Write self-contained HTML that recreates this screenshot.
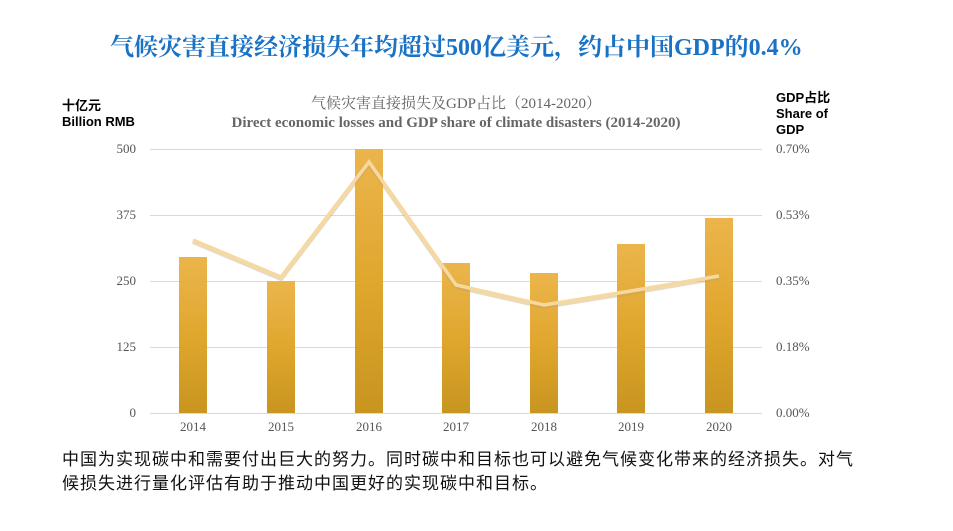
<!DOCTYPE html>
<html><head><meta charset="utf-8"><style>
body{margin:0;background:#fff;width:953px;height:531px;overflow:hidden;position:relative;font-family:"Liberation Sans","Noto Sans CJK SC",sans-serif}
.t{position:absolute;white-space:nowrap}
</style></head><body>
<div class="t" style="left:110px;top:27px;font-size:24px;font-weight:bold;color:#1a72c4;font-family:'Liberation Serif','Noto Serif CJK SC',serif">气候灾害直接经济损失年均超过500亿美元，约占中国GDP的0.4%</div>
<div class="t" style="left:62px;top:98px;font-size:13px;font-weight:bold;line-height:16px;color:#000">十亿元<br>Billion RMB</div>
<div class="t" style="left:776px;top:90px;font-size:13px;font-weight:bold;line-height:16px;color:#000">GDP占比<br>Share of<br>GDP</div>
<svg width="953" height="531" style="position:absolute;left:0;top:0">
<defs><linearGradient id="g" x1="0" y1="0" x2="0" y2="1"><stop offset="0" stop-color="#ebb54c"/><stop offset="0.5" stop-color="#e0a72e"/><stop offset="1" stop-color="#c8951f"/></linearGradient></defs>
<g font-family="Liberation Serif,Noto Serif CJK SC,serif" fill="#555" text-anchor="middle">
<text x="456" y="108" font-size="15" fill="#666">气候灾害直接损失及GDP占比（2014-2020）</text>
<text x="456" y="127" font-size="15" font-weight="bold" fill="#666">Direct economic losses and GDP share of climate disasters (2014-2020)</text>
</g>
<g stroke="#d9d9d9" stroke-width="1">
<line x1="150" x2="762" y1="149.5" y2="149.5"/><line x1="150" x2="762" y1="215.5" y2="215.5"/><line x1="150" x2="762" y1="281.5" y2="281.5"/><line x1="150" x2="762" y1="347.5" y2="347.5"/><line x1="150" x2="762" y1="413.5" y2="413.5"/>
</g>
<g font-family="Liberation Serif,serif" font-size="13" fill="#555">
<g text-anchor="end"><text x="136" y="153">500</text><text x="136" y="219">375</text><text x="136" y="285">250</text><text x="136" y="351">125</text><text x="136" y="417">0</text></g>
<g><text x="776" y="153">0.70%</text><text x="776" y="219">0.53%</text><text x="776" y="285">0.35%</text><text x="776" y="351">0.18%</text><text x="776" y="417">0.00%</text></g>
<g text-anchor="middle"><text x="193" y="431">2014</text><text x="281" y="431">2015</text><text x="369" y="431">2016</text><text x="456" y="431">2017</text><text x="544" y="431">2018</text><text x="631" y="431">2019</text><text x="719" y="431">2020</text></g>
</g>
<g fill="url(#g)">
<rect x="179" y="257" width="28" height="156"/><rect x="267" y="281" width="28" height="132"/><rect x="355" y="149" width="28" height="264"/><rect x="442" y="263" width="28" height="150"/><rect x="530" y="273" width="28" height="140"/><rect x="617" y="244" width="28" height="169"/><rect x="705" y="218" width="28" height="195"/>
</g>
<polyline points="193,240 281,277 369,162 456,285 544,305 631,291 719,276" fill="none" stroke="#c9a05a" stroke-opacity="0.4" stroke-width="5" transform="translate(0,1.5)"/>
<polyline points="193,240 281,277 369,162 456,285 544,305 631,291 719,276" fill="none" stroke="#f6d9a0" stroke-width="3.5"/>
</svg>
<div class="t" style="left:62px;top:448px;font-size:17px;letter-spacing:1px;line-height:24px;color:#111;white-space:normal;width:800px">中国为实现碳中和需要付出巨大的努力。同时碳中和目标也可以避免气候变化带来的经济损失。对气候损失进行量化评估有助于推动中国更好的实现碳中和目标。</div>
</body></html>
